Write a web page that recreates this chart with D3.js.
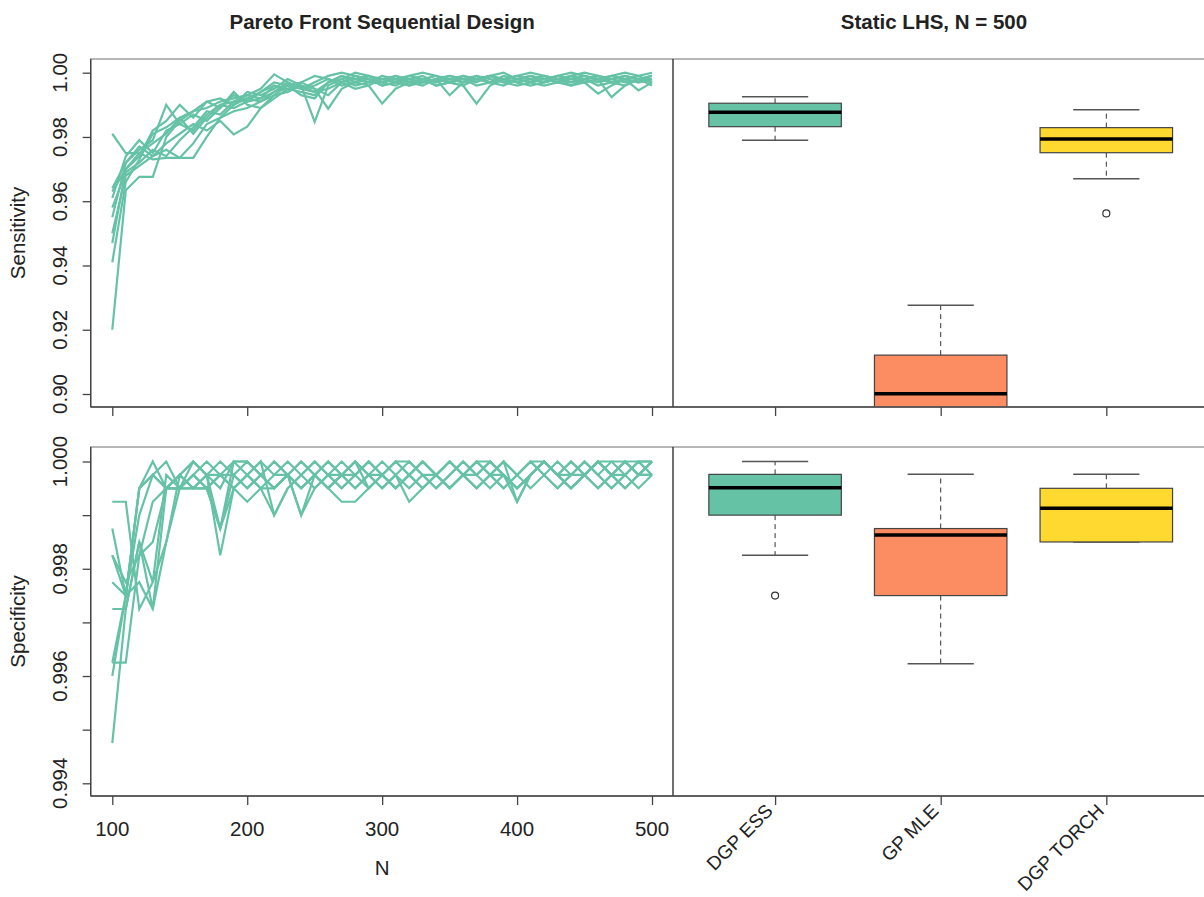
<!DOCTYPE html>
<html>
<head>
<meta charset="utf-8">
<script src="https://cdn.jsdelivr.net/npm/d3@7"></script>
<style>
  body { margin: 0; background: #fff; }
  text { font-family: "Liberation Sans", Arial, Helvetica, sans-serif; fill: #222; }
</style>
</head>
<body>
<script>
// design sizes N = 100, 110, ..., 500
const nValues = [100, 110, 120, 130, 140, 150, 160, 170, 180, 190, 200, 210, 220, 230, 240, 250,
  260, 270, 280, 290, 300, 310, 320, 330, 340, 350, 360, 370, 380, 390, 400, 410, 420, 430,
  440, 450, 460, 470, 480, 490, 500];

// sensitivity of each sequential-design replicate
const sensitivityRuns = [
  [0.981,0.975,0.975,0.978,0.981,0.986,0.988,0.989,0.991,0.992,0.993,0.995,0.9995,0.997,0.995,0.994,0.997,0.999,0.998,0.997,0.997,0.998,0.999,0.998,0.997,0.998,0.999,0.998,0.997,0.998,0.999,1.000,0.999,0.998,0.999,1.000,0.999,0.998,0.999,0.998,0.998],
  [0.964,0.972,0.976,0.979,0.990,0.984,0.982,0.987,0.990,0.989,0.991,0.992,0.994,0.996,0.993,0.992,0.997,0.999,0.997,0.996,0.9904,0.995,0.997,0.998,0.996,0.997,0.998,0.999,0.997,0.996,0.998,0.997,0.999,0.998,0.997,0.998,0.999,0.997,0.998,0.9945,0.997],
  [0.963,0.970,0.974,0.982,0.985,0.990,0.986,0.991,0.992,0.990,0.994,0.993,0.995,0.998,0.996,0.9847,0.996,0.998,1.000,0.999,0.997,0.996,0.998,0.997,0.998,0.999,0.998,0.997,0.999,1.000,0.998,0.999,0.998,0.999,1.000,0.999,0.998,0.999,1.000,0.999,1.000],
  [0.961,0.974,0.979,0.975,0.982,0.984,0.987,0.985,0.989,0.994,0.990,0.989,0.993,0.996,0.997,0.995,0.9888,0.995,0.997,0.999,0.998,0.997,0.996,0.998,0.999,0.997,0.996,0.998,0.999,0.998,0.997,0.996,0.997,0.998,0.999,0.997,0.998,0.9924,0.996,0.998,0.999],
  [0.958,0.969,0.972,0.976,0.974,0.979,0.983,0.988,0.987,0.991,0.992,0.994,0.996,0.995,0.994,0.993,0.997,0.998,0.996,0.997,0.999,0.998,0.997,0.996,0.998,0.9930,0.997,0.998,0.999,0.997,0.998,0.999,0.998,0.997,0.996,0.998,0.999,0.998,0.997,0.998,0.996],
  [0.955,0.972,0.977,0.974,0.976,0.9735,0.978,0.984,0.986,0.988,0.989,0.991,0.993,0.994,0.996,0.995,0.993,0.997,0.998,0.999,0.997,0.998,0.996,0.997,0.998,0.997,0.996,0.9904,0.996,0.998,0.999,0.998,0.997,0.998,0.996,0.997,0.998,0.999,0.998,0.997,0.998],
  [0.950,0.968,0.971,0.974,0.978,0.981,0.984,0.982,0.985,0.9808,0.9832,0.989,0.992,0.995,0.996,0.994,0.995,0.997,0.999,0.998,0.996,0.997,0.999,1.000,0.999,0.998,0.997,0.998,0.999,0.998,0.997,0.998,0.999,0.998,0.997,0.998,0.996,0.997,0.998,0.999,0.997],
  [0.947,0.970,0.975,0.973,0.9735,0.9735,0.9735,0.980,0.986,0.990,0.992,0.991,0.994,0.997,0.995,0.996,0.998,0.997,0.995,0.996,0.998,0.999,0.997,0.998,0.996,0.997,0.999,0.998,0.997,0.999,0.998,0.997,0.996,0.997,0.998,0.999,0.998,0.997,0.996,0.998,0.997],
  [0.941,0.966,0.973,0.981,0.983,0.986,0.981,0.986,0.990,0.991,0.993,0.992,0.996,0.994,0.997,0.999,0.998,0.996,0.997,0.998,0.997,0.999,0.998,0.997,0.998,0.999,0.998,0.996,0.997,0.998,0.997,0.998,0.997,0.999,0.998,0.997,0.9935,0.996,0.998,0.997,0.998],
  [0.920,0.9634,0.9676,0.9676,0.980,0.985,0.988,0.991,0.989,0.993,0.991,0.994,0.997,0.996,0.995,0.997,0.999,1.000,0.999,0.998,0.996,0.997,0.998,0.999,0.997,0.998,0.997,0.999,0.998,0.997,0.996,0.997,0.998,0.997,0.999,0.998,0.997,0.998,0.999,0.998,0.999]
];

// specificity of each sequential-design replicate
const specificityRuns = [
  [0.99925,0.99925,0.99725,0.99775,0.9985,0.9995,0.99975,0.9995,0.99875,0.99975,1.000,0.99975,0.9995,0.99975,1.000,0.99975,0.9995,0.99925,0.99925,0.9995,0.99975,1.000,0.99975,0.9995,0.99975,1.000,0.99975,0.9995,0.99975,1.000,0.99975,1.000,0.99975,0.9995,0.99975,1.000,0.99975,1.000,1.000,0.99975,1.000],
  [0.99875,0.9975,0.9995,0.99975,1.000,0.9995,0.99975,0.9995,0.99975,0.9995,0.99975,0.9995,0.999,0.9995,0.99975,1.000,0.99975,0.9995,0.99975,1.000,0.99975,0.9995,0.99975,1.000,0.99975,0.9995,0.99975,1.000,1.000,0.99975,0.9995,0.99975,1.000,0.99975,0.99975,1.000,0.99975,0.9995,0.99975,1.000,0.99975],
  [0.99825,0.99775,0.99825,0.9985,0.9995,0.9995,1.000,0.99975,0.99825,0.9995,0.99975,1.000,0.99975,0.99975,0.999,0.9995,0.99975,1.000,0.99975,0.9995,0.99975,1.000,1.000,0.99975,0.9995,0.99975,1.000,0.99975,1.000,0.99975,0.99925,0.99975,1.000,0.99975,1.000,0.99975,0.9995,0.99975,1.000,1.000,1.000],
  [0.99825,0.9975,0.99775,0.99725,0.9985,0.99975,0.9995,0.9995,0.99875,0.9995,0.99925,0.9995,0.99975,1.000,0.99975,0.9995,0.99975,0.99975,1.000,0.99975,0.9995,0.99975,0.99925,0.9995,0.99975,1.000,0.99975,1.000,0.99975,0.9995,0.99975,1.000,0.99975,0.9995,0.99975,0.99975,1.000,0.99975,0.9995,0.99975,0.99975],
  [0.99725,0.99725,0.9985,0.99725,0.9995,0.9995,0.9995,0.99975,1.000,0.99975,0.9995,0.99975,1.000,0.99975,0.9995,0.99975,1.000,0.99975,0.9995,0.99975,1.000,0.99975,0.9995,0.99975,0.99975,1.000,0.99975,0.9995,0.99975,1.000,0.99975,0.9995,0.99975,1.000,0.99975,1.000,0.99975,0.9995,0.99975,1.000,0.99975],
  [0.99775,0.9975,0.9995,0.99975,0.9995,0.99975,1.000,0.99975,0.9995,1.000,0.99975,0.9995,0.9995,0.99975,0.9995,0.99975,1.000,0.99975,0.9995,0.99975,0.99975,0.9995,0.99975,1.000,0.99975,0.9995,0.99975,1.000,0.99975,0.9995,0.99975,1.000,1.000,0.99975,0.9995,0.99975,1.000,0.99975,1.000,0.99975,1.000],
  [0.99625,0.99625,0.99825,0.99925,0.9995,0.99975,0.9995,0.99975,0.99975,1.000,1.000,0.99975,0.9995,0.99975,0.9995,0.99975,0.9995,0.99975,1.000,0.9995,0.99975,1.000,0.99975,1.000,0.99975,0.9995,0.99975,0.99975,1.000,0.99975,0.9995,0.99975,1.000,0.99975,0.9995,0.99975,1.000,0.99975,0.99975,1.000,1.000],
  [0.996,0.9975,0.999,0.99975,0.9995,0.9995,0.9995,0.9995,0.99975,0.99975,0.9995,0.99975,1.000,0.99975,0.999,0.99975,0.9995,0.99975,1.000,0.99975,0.9995,0.99975,1.000,0.99975,0.9995,0.99975,1.000,0.99975,0.9995,0.99975,0.9995,0.99975,1.000,0.99975,1.000,0.99975,0.9995,0.99975,1.000,0.99975,0.99975],
  [0.99475,0.99725,0.9985,0.99775,0.99975,0.9995,0.99975,1.000,0.99975,0.9995,0.99975,1.000,0.999,0.9995,0.99975,1.000,0.99975,0.9995,0.99975,1.000,0.99975,0.9995,0.99975,0.9995,0.99975,1.000,0.99975,0.9995,0.99975,1.000,0.99925,0.99975,1.000,0.99975,0.9995,0.99975,1.000,0.99975,0.9995,0.99975,1.000],
  [0.99625,0.9975,0.9995,1.000,0.9995,0.99975,1.000,0.99975,0.99875,1.000,1.000,0.99975,0.9995,0.99975,1.000,0.99975,0.9995,0.99975,0.99975,1.000,0.99975,0.9995,0.99975,1.000,0.99975,0.9995,0.99975,1.000,0.99975,0.99975,0.9995,0.99975,1.000,0.99975,0.9995,0.99975,1.000,1.000,0.99975,0.9995,0.99975]
];

// static LHS boxplots (N = 500)
const methods = ["DGP ESS", "GP MLE", "DGP TORCH"];
const methodColors = ["#66C2A5", "#FC8D62", "#FFD92F"];
const sensitivityBoxes = [
  { lo: 0.9790, q1: 0.9832, med: 0.9877, q3: 0.9905, hi: 0.9925, out: [] },
  { lo: 0.8700, q1: 0.8850, med: 0.9001, q3: 0.9121, hi: 0.9276, out: [] },
  { lo: 0.9670, q1: 0.9751, med: 0.9794, q3: 0.9829, hi: 0.9885, out: [0.9562] }
];
const specificityBoxes = [
  { lo: 0.99825, q1: 0.99900, med: 0.99951, q3: 0.99976, hi: 1.00000, out: [0.99750] },
  { lo: 0.99623, q1: 0.99750, med: 0.99863, q3: 0.99875, hi: 0.99976, out: [] },
  { lo: 0.99850, q1: 0.99850, med: 0.99913, q3: 0.99950, hi: 0.99976, out: [] }
];

const sensTicks = [0.90, 0.92, 0.94, 0.96, 0.98, 1.00];
const specTicks = [0.994, 0.995, 0.996, 0.997, 0.998, 0.999, 1.000];
const specLabels = [0.994, 0.996, 0.998, 1.000];
const nTicks = [100, 200, 300, 400, 500];

const lineColor = "#66C2A5";
const width = 1204, height = 897;
const fontSize = 20.5;

const svg = d3.select("body").append("svg")
  .attr("width", width)
  .attr("height", height);

const xN = d3.scaleLinear().domain([84, 516]).range([90.7, 673.6]);
const xCat = d3.scaleLinear().domain([0.38, 3.62]).range([672.4, 1209]);

const rows = [
  {
    top: 59, bottom: 407,
    y: d3.scaleLinear().domain([0.90, 1.00]).range([394, 72.7]),
    runs: sensitivityRuns, boxes: sensitivityBoxes,
    ticks: sensTicks, labels: sensTicks, fmt: d3.format(".2f"),
    title: "Sensitivity", showX: false
  },
  {
    top: 447, bottom: 796,
    y: d3.scaleLinear().domain([0.994, 1.000]).range([783.3, 461.5]),
    runs: specificityRuns, boxes: specificityBoxes,
    ticks: specTicks, labels: specLabels, fmt: d3.format(".3f"),
    title: "Specificity", showX: true
  }
];

const line = d3.line();

rows.forEach((row, r) => {
  const y = row.y;
  const leftX0 = xN.range()[0], leftX1 = xN.range()[1];
  const rightX0 = xCat.range()[0], rightX1 = xCat.range()[1];

  // clip paths for both panels
  const clipL = "clipL" + r, clipR = "clipR" + r;
  const defs = svg.append("defs");
  defs.append("clipPath").attr("id", clipL).append("rect")
    .attr("x", leftX0).attr("y", row.top)
    .attr("width", leftX1 - leftX0).attr("height", row.bottom - row.top);
  defs.append("clipPath").attr("id", clipR).append("rect")
    .attr("x", rightX0).attr("y", row.top)
    .attr("width", rightX1 - rightX0).attr("height", row.bottom - row.top);

  // sequential design lines
  svg.append("g")
    .attr("clip-path", `url(#${clipL})`)
    .selectAll("path")
    .data(row.runs)
    .join("path")
    .attr("d", d => line(d.map((v, i) => [xN(nValues[i]), y(v)])))
    .attr("fill", "none")
    .attr("stroke", lineColor)
    .attr("stroke-width", 2.2)
    .attr("stroke-linejoin", "miter");

  // boxplots
  const halfBox = (xCat(1.4) - xCat(1)), halfCap = halfBox / 2;
  const bg = svg.append("g").attr("clip-path", `url(#${clipR})`);
  row.boxes.forEach((b, i) => {
    const cx = xCat(i + 1);
    const g = bg.append("g");
    // whiskers
    g.append("line")
      .attr("x1", cx).attr("x2", cx).attr("y1", y(b.q3)).attr("y2", y(b.hi))
      .attr("stroke", "#333").attr("stroke-dasharray", "5,4");
    g.append("line")
      .attr("x1", cx).attr("x2", cx).attr("y1", y(b.q1)).attr("y2", y(b.lo))
      .attr("stroke", "#333").attr("stroke-dasharray", "5,4");
    [b.hi, b.lo].forEach(v => {
      g.append("line")
        .attr("x1", cx - halfCap).attr("x2", cx + halfCap)
        .attr("y1", y(v)).attr("y2", y(v))
        .attr("stroke", "#555").attr("stroke-width", 1.5);
    });
    g.append("rect")
      .attr("x", cx - halfBox).attr("width", 2 * halfBox)
      .attr("y", y(b.q3)).attr("height", y(b.q1) - y(b.q3))
      .attr("fill", methodColors[i])
      .attr("stroke", "#444").attr("stroke-width", 1.2);
    g.append("line")
      .attr("x1", cx - halfBox).attr("x2", cx + halfBox)
      .attr("y1", y(b.med)).attr("y2", y(b.med))
      .attr("stroke", "#000").attr("stroke-width", 3.5);
    g.selectAll("circle").data(b.out).join("circle")
      .attr("cx", cx).attr("cy", d => y(d)).attr("r", 3.5)
      .attr("fill", "none").attr("stroke", "#333").attr("stroke-width", 1.2);
  });

  // frames
  svg.append("rect")
    .attr("x", leftX0).attr("y", row.top)
    .attr("width", rightX1 - leftX0).attr("height", row.bottom - row.top)
    .attr("fill", "none").attr("stroke", "#999").attr("stroke-width", 1.4);
  svg.append("line")
    .attr("x1", leftX0).attr("x2", leftX0).attr("y1", row.top).attr("y2", row.bottom)
    .attr("stroke", "#444").attr("stroke-width", 1.4);
  svg.append("line")
    .attr("x1", leftX1 - 0.6).attr("x2", leftX1 - 0.6).attr("y1", row.top).attr("y2", row.bottom)
    .attr("stroke", "#333").attr("stroke-width", 1.4);
  svg.append("line")
    .attr("x1", leftX0).attr("x2", rightX1).attr("y1", row.bottom).attr("y2", row.bottom)
    .attr("stroke", "#444").attr("stroke-width", 1.4);

  // y axis
  const yAxis = svg.append("g")
    .attr("transform", `translate(${leftX0},0)`)
    .call(d3.axisLeft(y).tickValues(row.ticks).tickSize(8).tickFormat(""));
  yAxis.select(".domain").remove();
  yAxis.selectAll(".tick line").attr("stroke", "#444").attr("stroke-width", 1.3);

  svg.append("g").selectAll("text")
    .data(row.labels)
    .join("text")
    .attr("transform", d => `translate(67,${y(d)}) rotate(-90)`)
    .attr("text-anchor", "middle")
    .attr("font-size", fontSize)
    .text(row.fmt);

  svg.append("text")
    .attr("transform", `translate(25,${(row.top + row.bottom) / 2}) rotate(-90)`)
    .attr("text-anchor", "middle")
    .attr("font-size", fontSize)
    .text(row.title);

  // x axis ticks for N
  const xAxis = svg.append("g")
    .attr("transform", `translate(0,${row.bottom})`)
    .call(d3.axisBottom(xN).tickValues(nTicks).tickSize(9).tickFormat(""));
  xAxis.select(".domain").remove();
  xAxis.selectAll(".tick line").attr("stroke", "#444").attr("stroke-width", 1.3);

  // x axis ticks for methods
  const cAxis = svg.append("g")
    .attr("transform", `translate(0,${row.bottom})`)
    .call(d3.axisBottom(xCat).tickValues([1, 2, 3]).tickSize(9).tickFormat(""));
  cAxis.select(".domain").remove();
  cAxis.selectAll(".tick line").attr("stroke", "#444").attr("stroke-width", 1.3);

  if (row.showX) {
    svg.append("g").selectAll("text")
      .data(nTicks)
      .join("text")
      .attr("x", d => xN(d))
      .attr("y", row.bottom + 39.5)
      .attr("text-anchor", "middle")
      .attr("font-size", fontSize)
      .text(d => d);

    svg.append("text")
      .attr("x", (leftX0 + leftX1) / 2)
      .attr("y", row.bottom + 79)
      .attr("text-anchor", "middle")
      .attr("font-size", fontSize)
      .text("N");

    svg.append("g").selectAll("text")
      .data(methods)
      .join("text")
      .attr("transform", (d, i) => `translate(${xCat(i + 1) - 1},${row.bottom + 16}) rotate(-45)`)
      .attr("text-anchor", "end")
      .attr("font-size", 19)
      .text(d => d);
  }
});

// panel titles
svg.append("text")
  .attr("x", (xN.range()[0] + xN.range()[1]) / 2)
  .attr("y", 29)
  .attr("text-anchor", "middle")
  .attr("font-size", fontSize)
  .attr("font-weight", "bold")
  .text("Pareto Front Sequential Design");

svg.append("text")
  .attr("x", 934)
  .attr("y", 29)
  .attr("text-anchor", "middle")
  .attr("font-size", fontSize)
  .attr("font-weight", "bold")
  .text("Static LHS, N = 500");
</script>
</body>
</html>
